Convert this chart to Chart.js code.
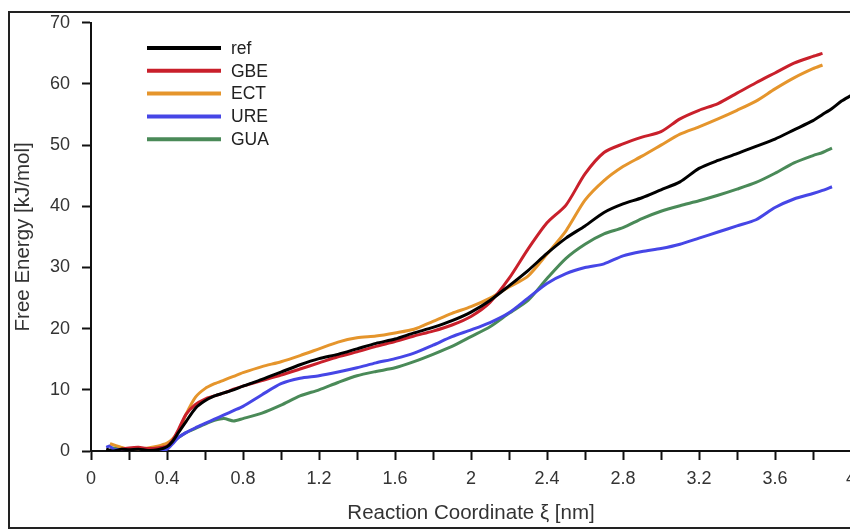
<!DOCTYPE html>
<html lang="en">
<head>
  <meta charset="UTF-8" />
  <title>Free Energy vs Reaction Coordinate</title>
  <script src="https://cdn.jsdelivr.net/npm/chart.js"></script>
  <style>
    html, body { margin: 0; padding: 0; background: #fff; overflow: hidden; }
    #wrap { width: 880px; height: 531px; }
  </style>
</head>
<body>
  <div id="wrap"><canvas id="feChart" width="880" height="531"></canvas></div>

  <script>
    // reaction coordinate (nm), shared by all series; null = no data there
    const xi = [0.08, 0.1, 0.12, 0.16, 0.2, 0.25, 0.3, 0.35, 0.4, 0.43, 0.46, 0.5, 0.55, 0.6, 0.65, 0.7, 0.75, 0.8,
      0.9, 1.0, 1.1, 1.2, 1.3, 1.4, 1.5, 1.6, 1.7, 1.8, 1.9, 2.0, 2.1, 2.2, 2.3, 2.4, 2.5, 2.6, 2.7, 2.8, 2.9,
      3.0, 3.1, 3.2, 3.3, 3.4, 3.5, 3.6, 3.7, 3.8, 3.85, 3.9, 3.95, 4.0];

    const ref = [0.3, 0.1, 0.0, 0.3, 0.2, 0.3, 0.1, 0.2, 0.7, 1.6, 3.0, 4.8, 7.0, 8.2, 9.0, 9.5, 10.0, 10.6,
      11.7, 12.9, 14.1, 15.1, 15.8, 16.7, 17.6, 18.3, 19.3, 20.2, 21.3, 22.7, 24.6, 27.0, 29.5, 32.3, 34.8, 36.8, 39.0, 40.4, 41.4,
      42.7, 44.0, 46.2, 47.5, 48.6, 49.8, 51.0, 52.5, 54.0, 55.0, 56.0, 57.2, 58.1];

    const gbe = [null, null, null, 0.3, 0.5, 0.6, 0.4, 0.5, 0.8, 1.8, 3.5, 6.0, 7.6, 8.5, 9.0, 9.5, 10.1, 10.6,
      11.5, 12.4, 13.4, 14.4, 15.4, 16.2, 17.1, 17.9, 18.8, 19.6, 20.6, 22.0, 24.3, 28.2, 33.0, 37.3, 40.2, 45.3, 48.8, 50.2, 51.3,
      52.2, 54.3, 55.7, 56.8, 58.5, 60.2, 61.8, 63.4, 64.5, 65.0, null, null, null];

    const ect = [null, 1.2, 1.0, 0.6, 0.3, 0.3, 0.5, 0.8, 1.3, 2.0, 3.2, 6.0, 8.8, 10.2, 11.0, 11.6, 12.2, 12.8,
      13.8, 14.6, 15.6, 16.7, 17.8, 18.5, 18.8, 19.3, 19.9, 21.2, 22.5, 23.6, 25.0, 26.8, 28.6, 32.2, 36.0, 41.0, 44.2, 46.5, 48.2,
      50.0, 51.8, 53.0, 54.3, 55.7, 57.2, 59.2, 61.0, 62.5, 63.1, null, null, null];

    const ure = [0.6, 0.8, 0.2, 0.3, 0.1, 0.1, 0.0, 0.0, 0.3, 1.2, 2.2, 3.0, 3.8, 4.5, 5.2, 5.9, 6.6, 7.3,
      9.2, 11.0, 11.9, 12.3, 12.9, 13.6, 14.4, 15.1, 16.0, 17.3, 18.7, 19.8, 21.0, 22.6, 25.0, 27.4, 29.0, 30.0, 30.6, 31.9, 32.6,
      33.1, 33.8, 34.8, 35.8, 36.8, 37.8, 39.8, 41.2, 42.1, 42.6, 43.2, null, null];

    const gua = [null, 0.4, 0.5, 0.3, 0.2, 0.1, 0.0, 0.1, 0.7, 1.5, 2.2, 3.0, 3.7, 4.4, 5.0, 5.3, 4.9, 5.3,
      6.2, 7.5, 9.0, 10.0, 11.2, 12.3, 13.0, 13.6, 14.6, 15.8, 17.1, 18.7, 20.3, 22.5, 24.6, 28.2, 31.5, 33.8, 35.5, 36.5, 38.0,
      39.2, 40.1, 40.9, 41.8, 42.8, 43.9, 45.4, 47.1, 48.3, 48.8, 49.5, null, null];

    const seriesNames = ['ref', 'GBE', 'ECT', 'URE', 'GUA'];
    const seriesValues = [ref, gbe, ect, ure, gua];
    const seriesColors = ['#000000', '#c9202b', '#e5952c', '#4646e6', '#4a8a58'];

    const xTicksLabelled = [0, 0.4, 0.8, 1.2, 1.6, 2, 2.4, 2.8, 3.2, 3.6, 4];
    const yTicks = [0, 10, 20, 30, 40, 50, 60, 70];

    function toPoints(vals) {
      return xi.map((x, i) => ({ x: x, y: vals[i] })).filter(p => p.y !== null);
    }

    const datasets = seriesNames.map((name, i) => ({
      label: name,
      data: toPoints(seriesValues[i]),
      borderColor: seriesColors[i],
      backgroundColor: seriesColors[i],
      borderWidth: 3,
      pointRadius: 0,
      tension: 0.25,
      fill: false
    }));

    // outer frame + legend inside the plot
    const framePlugin = {
      id: 'frameAndLegend',
      afterDraw(chart) {
        const ctx = chart.ctx;
        ctx.save();
        ctx.strokeStyle = '#222';
        ctx.lineWidth = 2;
        ctx.strokeRect(9, 12, 900, 516);

        ctx.font = '17.5px "Liberation Sans", Arial, sans-serif';
        ctx.textBaseline = 'middle';
        ctx.fillStyle = '#222';
        ctx.lineWidth = 4;
        chart.data.datasets.forEach((ds, i) => {
          const y = 48 + i * 22.8;
          ctx.strokeStyle = ds.borderColor;
          ctx.beginPath();
          ctx.moveTo(147, y);
          ctx.lineTo(221, y);
          ctx.stroke();
          ctx.fillText(ds.label, 231, y + 1);
        });
        ctx.restore();
      }
    };

    const tickFont = { family: '"Liberation Sans", Arial, sans-serif', size: 18 };
    const titleFont = { family: '"Liberation Sans", Arial, sans-serif', size: 20.5 };

    const ctx = document.getElementById('feChart').getContext('2d');
    new Chart(ctx, {
      type: 'line',
      data: { datasets: datasets },
      options: {
        responsive: false,
        animation: false,
        layout: { padding: { top: 22, right: 29, left: 0, bottom: 0 } },
        plugins: {
          legend: { display: false },
          tooltip: { enabled: false }
        },
        scales: {
          x: {
            type: 'linear',
            min: 0,
            max: 4,
            afterFit: s => { s.height = 80; },
            afterBuildTicks: s => {
              s.ticks = [];
              for (let k = 0; k <= 20; k++) s.ticks.push({ value: k / 5 });
            },
            ticks: {
              autoSkip: false,
              maxRotation: 0,
              padding: 8,
              color: '#333',
              font: tickFont,
              callback: v => {
                const hit = xTicksLabelled.find(t => Math.abs(t - v) < 1e-6);
                return hit === undefined ? '' : String(hit);
              }
            },
            grid: {
              drawOnChartArea: false,
              drawTicks: true,
              tickLength: 9,
              tickWidth: 2,
              tickColor: '#111'
            },
            border: { color: '#111', width: 2 },
            title: {
              display: true,
              text: 'Reaction Coordinate ξ [nm]',
              color: '#333',
              font: titleFont,
              padding: { top: 0, bottom: 5 }
            }
          },
          y: {
            min: 0,
            max: 70,
            afterFit: s => { s.width = 91; },
            afterBuildTicks: s => { s.ticks = yTicks.map(v => ({ value: v })); },
            ticks: {
              padding: 12,
              color: '#333',
              font: tickFont
            },
            grid: {
              drawOnChartArea: false,
              drawTicks: true,
              tickLength: 9,
              tickWidth: 2,
              tickColor: '#111'
            },
            border: { color: '#111', width: 2 },
            title: {
              display: true,
              text: 'Free Energy [kJ/mol]',
              color: '#333',
              font: titleFont,
              padding: { top: 11, bottom: 0 }
            }
          }
        }
      },
      plugins: [framePlugin]
    });
  </script>
</body>
</html>
